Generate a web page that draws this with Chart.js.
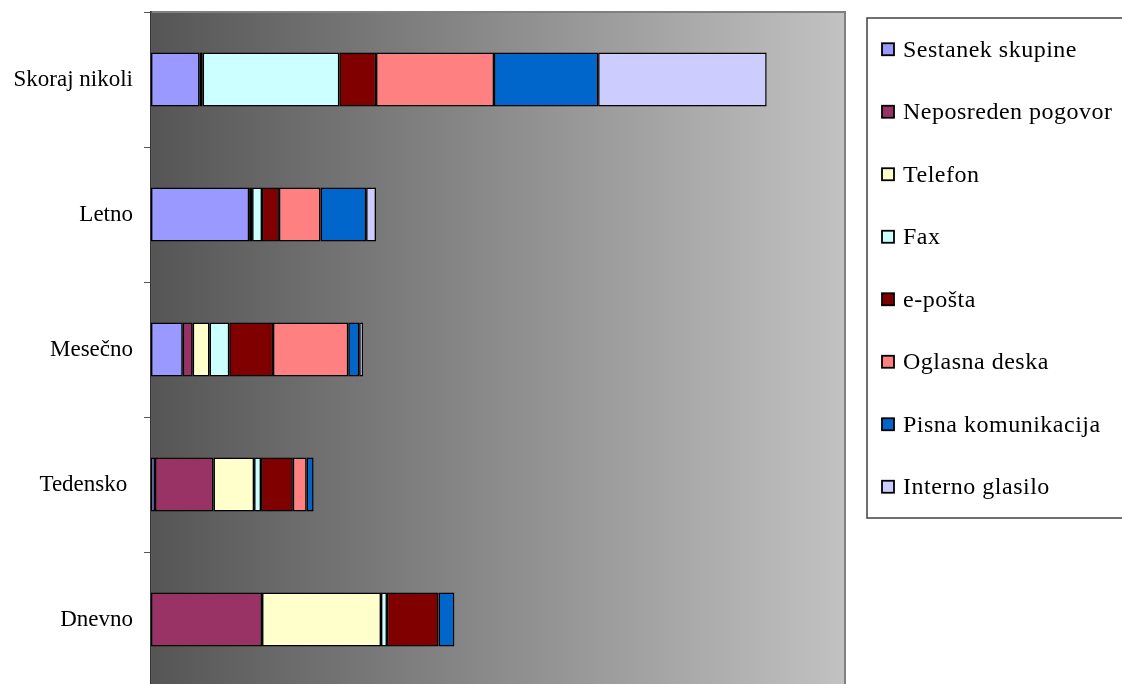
<!DOCTYPE html>
<html>
<head>
<meta charset="utf-8">
<script src="https://cdn.jsdelivr.net/npm/chart.js@4/dist/chart.umd.min.js"></script>
<style>
  html, body { margin: 0; padding: 0; background: #fff; overflow: hidden; }
  #okvir { width: 1122px; height: 690px; position: relative; }
</style>
</head>
<body>
<div id="okvir"><canvas id="graf"></canvas></div>
<script>
// pogostost uporabe posameznih kanalov komuniciranja
const kategorije = ['Skoraj nikoli', 'Letno', 'Mesečno', 'Tedensko ', 'Dnevno'];

const sestanekSkupine   = [4.9, 9.9, 3.2, 0.4, null];
const neposredenPogovor = [null, null, 1.0, 5.9, 11.2];
const telefon           = [0.3, 0.3, 1.7, 4.1, 12.0];
const fax               = [13.8, 1.0, 2.0, 0.7, 0.6];
const eposta            = [3.7, 1.7, 4.4, 3.2, 5.2];
const oglasnaDeska      = [11.9, 4.2, 7.6, 1.4, null];
const pisnaKomunikacija = [10.5, 4.6, 1.1, 0.7, 1.6];
const internoGlasilo    = [17.0, 1.0, 0.4, null, null];

const osMax = 70;

const serije = [
    { label: 'Sestanek skupine',    data: sestanekSkupine,   barva: '#9999FF' },
    { label: 'Neposreden pogovor',  data: neposredenPogovor, barva: '#993366' },
    { label: 'Telefon',             data: telefon,           barva: '#FFFFCC' },
    { label: 'Fax',                 data: fax,               barva: '#CCFFFF' },
    { label: 'e-pošta',             data: eposta,            barva: '#800000' },
    { label: 'Oglasna deska',       data: oglasnaDeska,      barva: '#FF8080' },
    { label: 'Pisna komunikacija',  data: pisnaKomunikacija, barva: '#0066CC' },
    { label: 'Interno glasilo',     data: internoGlasilo,    barva: '#CCCCFF' }
];

const pisava = '"Liberation Serif", "Times New Roman", serif';

// sivi preliv v ozadju risalne ploskve
const ozadje = {
    id: 'ozadje',
    beforeDraw(chart) {
        const { ctx, chartArea: { left, top, right, bottom } } = chart;
        const g = ctx.createLinearGradient(left, 0, right, 0);
        g.addColorStop(0, '#555555');
        g.addColorStop(1, '#c2c2c2');
        ctx.save();
        ctx.fillStyle = g;
        ctx.fillRect(left, top, right - left, bottom - top);
        ctx.strokeStyle = '#808080';
        ctx.lineWidth = 2;
        ctx.strokeRect(left, top, right - left, bottom - top);
        ctx.restore();
    }
};

// legenda v okvirju desno od grafa
const legenda = {
    id: 'legenda',
    afterDraw(chart) {
        const { ctx } = chart;
        const x0 = 867, y0 = 18, visina = 500;
        const korak = visina / chart.data.datasets.length;
        ctx.save();
        ctx.strokeStyle = '#404040';
        ctx.lineWidth = 1.5;
        ctx.strokeRect(x0, y0, 400, visina);
        ctx.font = '24px ' + pisava;
        ctx.letterSpacing = '0.5px';
        ctx.textBaseline = 'middle';
        ctx.textAlign = 'left';
        chart.data.datasets.forEach((ds, i) => {
            const y = y0 + korak * (i + 0.5);
            ctx.fillStyle = ds.backgroundColor;
            ctx.fillRect(882, y - 6, 12, 12);
            ctx.strokeStyle = '#000';
            ctx.lineWidth = 1.8;
            ctx.strokeRect(882, y - 6, 12, 12);
            ctx.fillStyle = '#000';
            ctx.fillText(ds.label, 903, y + 1);
        });
        ctx.restore();
    }
};

const ctx = document.getElementById('graf').getContext('2d');
const chart = new Chart(ctx, {
    type: 'bar',
    data: {
        labels: kategorije,
        datasets: serije.map(s => ({
            label: s.label,
            data: s.data,
            backgroundColor: s.barva,
            borderColor: '#000000',
            borderWidth: 1.5,
            borderSkipped: false,
            categoryPercentage: 1,
            barPercentage: 0.4
        }))
    },
    options: {
        indexAxis: 'y',
        responsive: true,
        maintainAspectRatio: false,
        animation: false,
        layout: {
            padding: { top: 12, right: 277, bottom: 3, left: 0 }
        },
        plugins: {
            legend: { display: false },
            tooltip: { enabled: false }
        },
        scales: {
            x: {
                stacked: true,
                display: false,
                min: 0,
                max: osMax
            },
            y: {
                stacked: true,
                afterFit(scale) {
                    scale.width = 151;
                    scale.paddingTop = 0;
                    scale.paddingBottom = 0;
                },
                border: { color: '#333333', width: 1.5 },
                grid: {
                    drawOnChartArea: false,
                    drawTicks: true,
                    tickLength: 7,
                    color: '#555555',
                    offset: true
                },
                ticks: {
                    color: '#000000',
                    padding: 11,
                    font: { family: pisava, size: 23 }
                }
            }
        }
    },
    plugins: [ozadje, legenda]
});
</script>
</body>
</html>
